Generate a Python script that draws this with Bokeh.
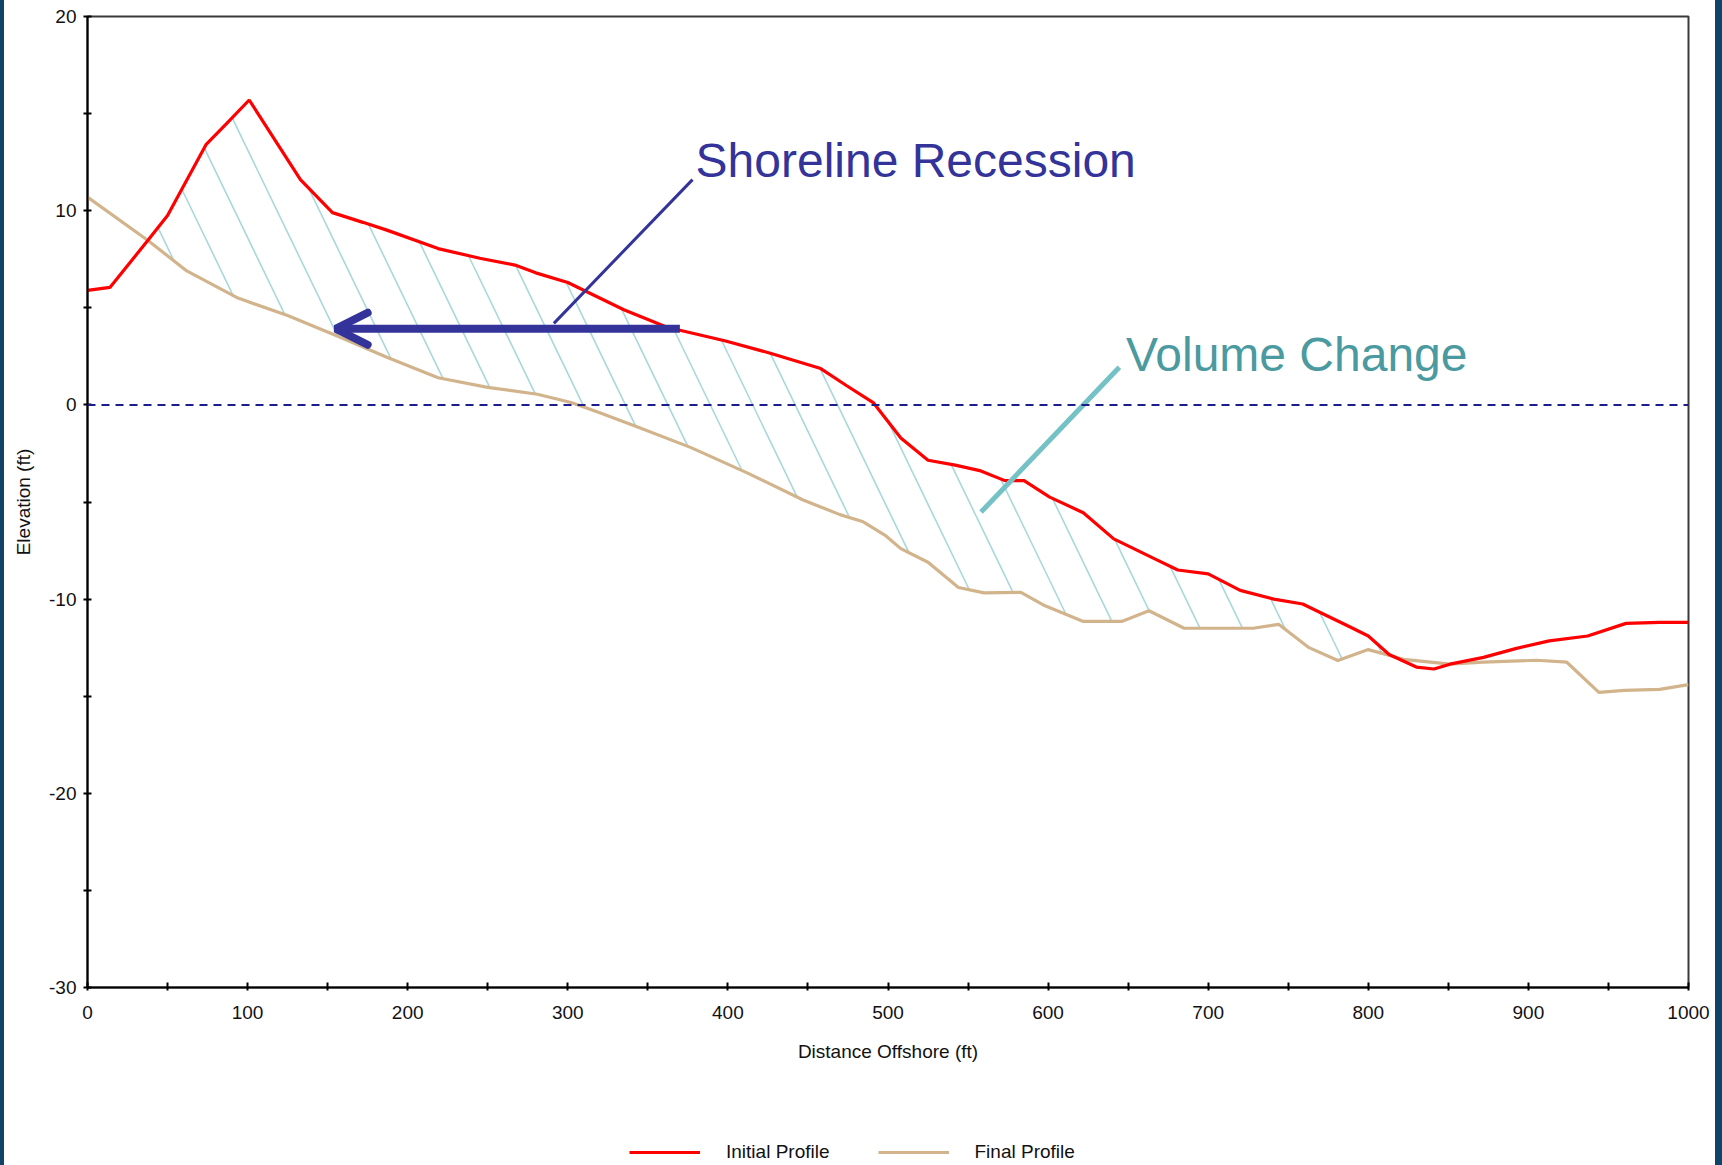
import numpy as np
from bokeh.plotting import figure
from bokeh.layouts import column
from bokeh.models import (FixedTicker, Legend, LegendItem, Arrow, OpenHead,
                          Label, Span, ColumnDataSource)
from bokeh.embed import file_html
from bokeh.resources import INLINE

# ---------------- data ----------------
initial_x = [0, 14, 38, 50, 74, 87, 101, 133, 153, 172, 187, 219, 245, 267, 280,
             300, 335, 362, 398, 427, 458, 474, 491, 508, 525, 542, 558, 573, 585,
             601, 622, 641, 666, 681, 700, 720, 741, 759, 789, 800, 813, 830, 841,
             851, 872, 892, 913, 937, 961, 982, 1000]
initial_y = [5.9, 6.05, 8.5, 9.75, 13.4, 14.5, 15.7, 11.6, 9.9, 9.4, 9.0, 8.05, 7.55,
             7.2, 6.8, 6.3, 4.9, 4.0, 3.3, 2.65, 1.87, 1.0, 0.1, -1.7, -2.85, -3.1,
             -3.4, -3.9, -3.9, -4.75, -5.55, -6.9, -7.9, -8.5, -8.7, -9.55, -10.0,
             -10.25, -11.45, -11.9, -12.85, -13.5, -13.6, -13.35, -13.0, -12.55,
             -12.15, -11.9, -11.25, -11.2, -11.2]

final_x = [0, 38, 62, 94, 125, 156, 187, 219, 250, 281, 302, 320, 344, 377, 412,
           447, 470, 484, 498, 508, 525, 544, 560, 583, 597, 622, 646, 663, 685,
           728, 744, 763, 781, 800, 822, 851, 872, 905, 924, 944, 960, 982, 1000]
final_y = [10.7, 8.45, 6.9, 5.5, 4.6, 3.55, 2.45, 1.4, 0.9, 0.55, 0.12, -0.4, -1.15,
           -2.2, -3.5, -4.9, -5.65, -6.0, -6.7, -7.4, -8.1, -9.4, -9.68, -9.65,
           -10.3, -11.15, -11.15, -10.6, -11.5, -11.5, -11.3, -12.5, -13.16, -12.6,
           -13.1, -13.35, -13.25, -13.15, -13.25, -14.8, -14.7, -14.65, -14.4]

x_major = [0, 100, 200, 300, 400, 500, 600, 700, 800, 900, 1000]
x_minor = [50, 150, 250, 350, 450, 550, 650, 750, 850, 950]
y_major = [-30, -20, -10, 0, 10, 20]
y_minor = [-25, -15, -5, 5, 15]

series_names = ["Initial Profile", "Final Profile"]

# ---------------- styles ----------------
FONT = "Liberation Sans"
RED = "#ff0000"
TAN = "#d2b48c"
NAVY = "#333399"
TEAL_TEXT = "#4a9a9f"
TEAL_LINE = "#74c1c6"
HATCH = "#a9d8dc"

W = 1715
H_MAIN, H_LEG = 1128, 35
BL, BR, BT, BB = 87, 27, 16, 141
FW, FH = W - BL - BR, H_MAIN - BT - BB
X0, X1, Y0, Y1 = 0, 1000, -30, 20

p = figure(width=W, height=H_MAIN, output_backend="svg", toolbar_location=None,
           x_range=(X0, X1), y_range=(Y0, Y1),
           min_border_left=BL, min_border_right=BR, min_border_top=BT,
           min_border_bottom=BB, background_fill_color="white",
           border_fill_alpha=0)
p.xgrid.visible = False
p.ygrid.visible = False
p.outline_line_color = "#3a3a3a"
p.outline_line_width = 2

# ---------------- hatch lines (computed from the two profiles) ----------------
px_per_x = FW / (X1 - X0)
px_per_y = FH / (Y1 - Y0)
slope = -2.07 * px_per_x / px_per_y        # steep lines going down-right
spacing = 26.5                               # ft, horizontal spacing
phase_x = 336.0                              # a hatch line crosses y=0 here
xs = np.arange(X0, X1 + 0.001, 0.1)
yi = np.interp(xs, initial_x, initial_y)
yf = np.interp(xs, final_x, final_y)
# hatched zone ends where the profiles cross offshore
cross = np.flatnonzero((xs > 500) & (yi <= yf))
x_limit = xs[cross[0]] if cross.size else X1
hx, hy = [], []
k_min = int(np.floor((X0 - phase_x) / spacing)) - 40
k_max = int(np.ceil((X1 - phase_x) / spacing)) + 40
for k in range(k_min, k_max + 1):
    xc = phase_x + k * spacing
    yl = slope * (xs - xc)
    inside = (yl <= yi) & (yl >= yf) & (yi > yf) & (xs <= x_limit)
    if not inside.any():
        continue
    idx = np.flatnonzero(inside)
    breaks = np.flatnonzero(np.diff(idx) > 1)
    starts = np.r_[idx[0], idx[breaks + 1]]
    ends = np.r_[idx[breaks], idx[-1]]
    for s, e in zip(starts, ends):
        if e - s < 2:
            continue
        hx.append([xs[s], xs[e]])
        hy.append([yl[s], yl[e]])
p.multi_line(xs=hx, ys=hy, line_color=HATCH, line_width=1.6)

# zero line
p.add_layout(Span(location=0, dimension="width", line_color="#1c1c8c",
                  line_dash="8 6", line_width=2))

# profiles
src_i = ColumnDataSource(dict(x=initial_x, y=initial_y))
src_f = ColumnDataSource(dict(x=final_x, y=final_y))
r_f = p.line("x", "y", source=src_f, line_color=TAN, line_width=3.2)
r_i = p.line("x", "y", source=src_i, line_color=RED, line_width=3.2)

# ---------------- annotations ----------------
p.add_layout(Arrow(end=OpenHead(size=32, line_width=8, line_color=NAVY,
                                line_cap="round"),
                   x_start=370, y_start=3.92, x_end=155, y_end=3.92,
                   line_width=8, line_color=NAVY))
p.segment(x0=[291.3], y0=[4.2], x1=[377.9], y1=[11.6], line_color=NAVY,
          line_width=3)
p.segment(x0=[558.1], y0=[-5.52], x1=[644.5], y1=[1.94], line_color=TEAL_LINE,
          line_width=5)
p.add_layout(Label(x=379.8, y=12.6, text="Shoreline Recession",
                   text_baseline="middle", text_align="left",
                   text_font=FONT, text_font_size="48px", text_color=NAVY))
p.add_layout(Label(x=648.6, y=2.62, text="Volume Change",
                   text_baseline="middle", text_align="left",
                   text_font=FONT, text_font_size="48px", text_color=TEAL_TEXT))

# ---------------- axes ----------------
p.xaxis.ticker = FixedTicker(ticks=x_major, minor_ticks=x_minor)
p.yaxis.ticker = FixedTicker(ticks=y_major, minor_ticks=y_minor)
p.yaxis.major_label_overrides = {v: str(v) for v in y_major}
p.xaxis.major_label_overrides = {v: str(v) for v in x_major}
p.xaxis.axis_label = "Distance Offshore (ft)"
p.yaxis.axis_label = "Elevation (ft)"
for ax in (p.xaxis, p.yaxis):
    ax.axis_line_color = "black"
    ax.axis_line_width = 2
    ax.major_tick_line_color = "black"
    ax.minor_tick_line_color = "black"
    ax.major_tick_line_width = 2
    ax.minor_tick_line_width = 2
    ax.major_label_text_font = FONT
    ax.major_label_text_font_size = "19px"
    ax.major_label_text_color = "#111111"
    ax.axis_label_text_font = FONT
    ax.axis_label_text_font_size = "19px"
    ax.axis_label_text_font_style = "normal"
    ax.axis_label_text_color = "#111111"
p.xaxis.major_tick_in = 5
p.xaxis.major_tick_out = 3
p.xaxis.minor_tick_in = 5
p.xaxis.minor_tick_out = 3
p.yaxis.major_tick_in = 4
p.yaxis.major_tick_out = 4
p.yaxis.minor_tick_in = 4
p.yaxis.minor_tick_out = 4
p.xaxis.major_label_standoff = 15
p.xaxis.axis_label_standoff = 19
p.yaxis.major_label_standoff = 7
p.yaxis.axis_label_standoff = 12

# ---------------- legend (its own strip below the chart) ----------------
# the strip's frame is aligned with the chart frame; its ranges lie outside the
# data, so the profile lines only appear as legend swatches here
pl = figure(width=W, height=H_LEG, output_backend="svg", toolbar_location=None,
            x_range=(-2, -1), y_range=(-2, -1), min_border=0,
            background_fill_alpha=0, border_fill_alpha=0)
pl.axis.visible = False
pl.grid.visible = False
pl.outline_line_color = None
li = pl.line(initial_x, initial_y, line_color=RED, line_width=3.2)
lf = pl.line(final_x, final_y, line_color=TAN, line_width=3.2)
legend = Legend(items=[LegendItem(label=series_names[0], renderers=[li]),
                       LegendItem(label=series_names[1], renderers=[lf])],
                orientation="horizontal", location=(542, 0),
                glyph_width=71, glyph_height=22, label_standoff=26, spacing=48,
                padding=0, margin=0, border_line_color=None,
                background_fill_alpha=0, label_text_font=FONT,
                label_text_font_size="19px", label_text_color="#111111")
pl.add_layout(legend, "center")

page = column(p, pl, spacing=0)

html = file_html(page, INLINE)
html = html.replace(
    "</head>",
    "<style>body{background:linear-gradient(to right,#0f4468 0,#0f4468 4px,"
    "#ffffff 4px,#ffffff calc(100% - 7px),#0f4468 calc(100% - 7px));}</style></head>",
    1)
open("out.html", "w").write(html)
